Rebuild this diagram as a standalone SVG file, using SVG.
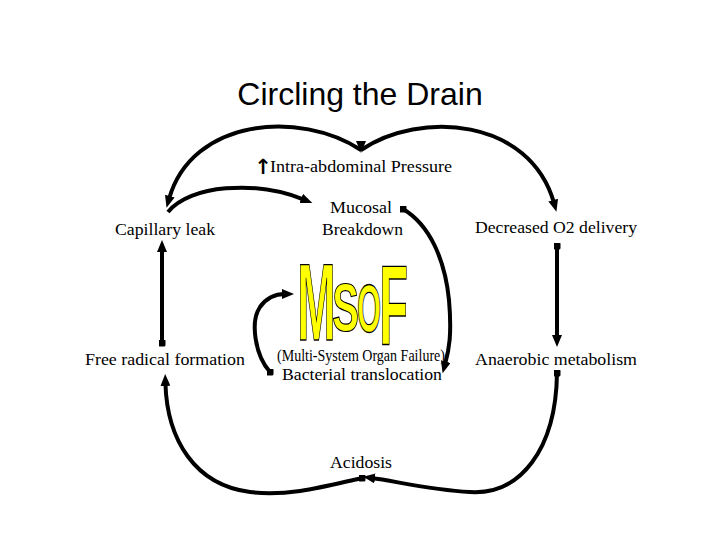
<svg xmlns="http://www.w3.org/2000/svg" width="720" height="540" viewBox="0 0 720 540">
<style>
.lbl{font-family:"Liberation Serif","Times New Roman",serif;font-size:17px;fill:#000}
.title{font-family:"Liberation Sans",Arial,sans-serif;font-size:32px;fill:#000}
.con{fill:none;stroke:#000;stroke-width:4;stroke-linecap:butt}
.ms{font-family:"Liberation Sans",Arial,sans-serif;font-weight:bold;font-size:100px;fill:#FFFF00;stroke:#000;stroke-width:1;vector-effect:non-scaling-stroke;text-anchor:middle}
.up{font-family:"DejaVu Sans",sans-serif;font-weight:bold;font-size:21px;fill:#000;text-anchor:middle}
</style>
<defs>
<marker id="ah" viewBox="0 0 12 10" refX="3" refY="5" markerWidth="12" markerHeight="10" markerUnits="userSpaceOnUse" orient="auto"><path d="M0,0 L12,5 L0,10 z" fill="#000"/></marker>
<marker id="dot" viewBox="0 0 7 7" refX="3.5" refY="3.5" markerWidth="7" markerHeight="7" markerUnits="userSpaceOnUse"><rect width="7" height="7" rx="1.5" fill="#000"/></marker>
</defs>
<rect width="720" height="540" fill="#fff"/>
<text class="title" x="360" y="105" text-anchor="middle">Circling the Drain</text>

<g id="connectors">
<path class="con" d="M361,150 C300,110 192,118 169,199" marker-end="url(#ah)"/>
<path class="con" d="M361,150 C420,110 530,118 554,203" marker-end="url(#ah)"/>
<path class="con" d="M361,142 L361,144" marker-end="url(#ah)"/>
<path class="con" d="M168,212 C190,185 255,180 304,199.6" marker-end="url(#ah)"/>
<path class="con" d="M403,209 C430,225 445,260 449,300 C452,335 449,350 445,364.5" marker-start="url(#dot)" marker-end="url(#ah)"/>
<path class="con" d="M270,372 C255,355 250,322 260,307 C267,297 276,294 285,294" marker-start="url(#dot)" marker-end="url(#ah)"/>
<path class="con" d="M162,343 L162,249" marker-start="url(#dot)" marker-end="url(#ah)"/>
<path class="con" d="M557,246 L557,338" marker-start="url(#dot)" marker-end="url(#ah)"/>
<path class="con" d="M557,373 C556,450 520,495 470,492 C430,490 395,481 372,478" marker-start="url(#dot)" marker-end="url(#ah)"/>
<path class="con" d="M362,478 C330,485 290,497 250,492 C195,485 167,440 165.4,383" marker-start="url(#dot)" marker-end="url(#ah)"/>
</g>

<g id="intra">
<text class="up" x="263" y="174">↑</text>
<text class="lbl" x="270" y="172" textLength="182" lengthAdjust="spacingAndGlyphs">Intra-abdominal Pressure</text>
</g>
<g id="capillary"><text class="lbl" x="115" y="235" textLength="100" lengthAdjust="spacingAndGlyphs">Capillary leak</text></g>
<g id="mucosal">
<text class="lbl" x="330" y="213" textLength="62" lengthAdjust="spacingAndGlyphs">Mucosal</text>
<text class="lbl" x="322" y="235" textLength="81" lengthAdjust="spacingAndGlyphs">Breakdown</text>
</g>
<g id="decreased"><text class="lbl" x="475" y="233" textLength="162" lengthAdjust="spacingAndGlyphs">Decreased O2 delivery</text></g>
<g id="free"><text class="lbl" x="85" y="365" textLength="160" lengthAdjust="spacingAndGlyphs">Free radical formation</text></g>
<g id="anaerobic"><text class="lbl" x="475" y="365" textLength="162" lengthAdjust="spacingAndGlyphs">Anaerobic metabolism</text></g>
<g id="msof">
<text class="ms" transform="translate(316.5,340) scale(0.46,1.09)">M</text>
<text class="ms" transform="translate(345.5,331) scale(0.40,0.68)">S</text>
<text class="ms" transform="translate(369,332) scale(0.31,0.68)">O</text>
<text class="ms" transform="translate(393.5,345) scale(0.47,1.13)">F</text>
<text class="lbl" x="277" y="361" font-size="14" textLength="168" lengthAdjust="spacingAndGlyphs">(Multi-System Organ Failure)</text>
</g>
<g id="bacterial"><text class="lbl" x="282" y="380" textLength="160" lengthAdjust="spacingAndGlyphs">Bacterial translocation</text></g>
<g id="acidosis"><text class="lbl" x="330" y="468" textLength="62" lengthAdjust="spacingAndGlyphs">Acidosis</text></g>
</svg>
